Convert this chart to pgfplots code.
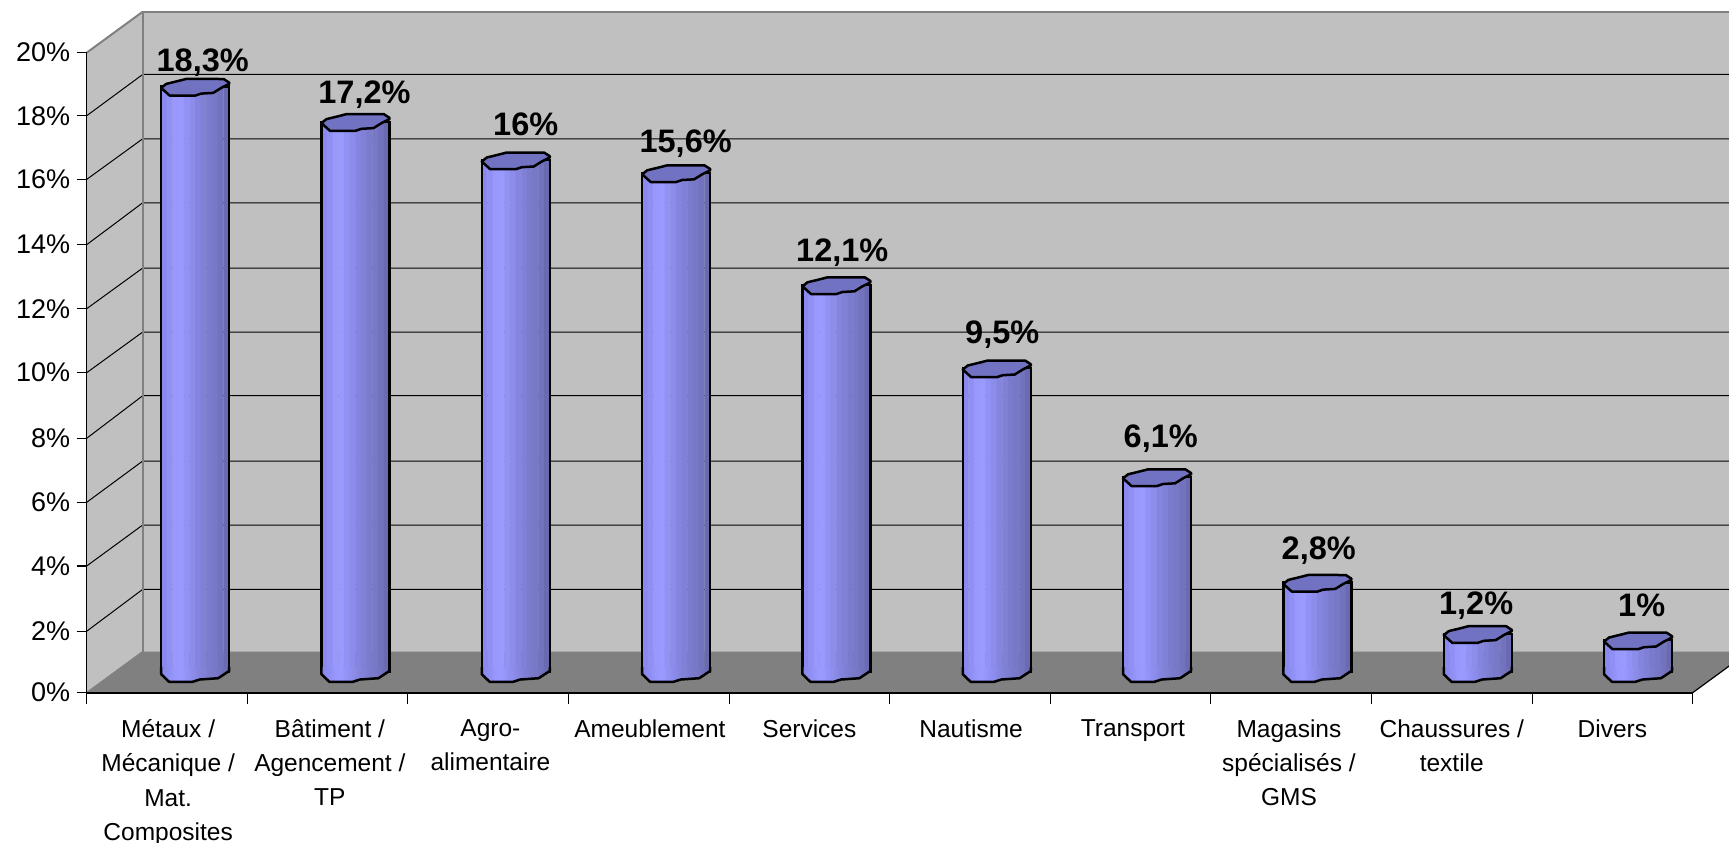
\documentclass[border=0pt]{standalone}
\usepackage{fontspec}
\setmainfont{Liberation Sans}
\usepackage{pgfplots}
\usepackage{pgfplotstable}
\pgfplotsset{compat=1.18}
\definecolor{wall}{HTML}{C0C0C0}
\definecolor{floorc}{HTML}{808080}
\definecolor{capc}{HTML}{7272C2}
\definecolor{b1}{HTML}{8A8AEE}
\definecolor{b2}{HTML}{9090F4}
\definecolor{b3}{HTML}{9898FD}
\definecolor{b4}{HTML}{9999FF}
\definecolor{b5}{HTML}{9292F5}
\definecolor{b6}{HTML}{8C8CEA}
\definecolor{b7}{HTML}{8585DF}
\definecolor{b8}{HTML}{8080D6}
\definecolor{b9}{HTML}{7B7BCD}
\definecolor{b10}{HTML}{7878C6}
\definecolor{b11}{HTML}{7272BE}
\definecolor{b12}{HTML}{6A6AB2}
\pgfdeclarehorizontalshading{cyl}{100bp}{color(0bp)=(b1); color(27.08bp)=(b1); color(31.25bp)=(b2); color(35.42bp)=(b3); color(39.58bp)=(b4); color(43.75bp)=(b5); color(47.92bp)=(b6); color(52.08bp)=(b7); color(56.25bp)=(b8); color(60.42bp)=(b9); color(64.58bp)=(b10); color(68.75bp)=(b11); color(72.92bp)=(b12); color(100bp)=(b12)}
\pgfdeclareplotmark{cyltop}{%
  \pgfsetcornersarced{\pgfqpoint{3pt}{3pt}}%
  \pgfpathmoveto{\pgfqpoint{0pt}{-9pt}}%
  \pgfpathlineto{\pgfqpoint{6pt}{-7pt}}%
  \pgfpathlineto{\pgfqpoint{18pt}{-6.3pt}}%
  \pgfpathlineto{\pgfqpoint{26pt}{-1.3pt}}%
  \pgfpathlineto{\pgfqpoint{34pt}{2.7pt}}%
  \pgfpathlineto{\pgfqpoint{34pt}{4pt}}%
  \pgfpathlineto{\pgfqpoint{28.5pt}{7.6pt}}%
  \pgfpathlineto{\pgfqpoint{-9pt}{7.7pt}}%
  \pgfpathlineto{\pgfqpoint{-15.5pt}{6pt}}%
  \pgfpathlineto{\pgfqpoint{-29pt}{2.7pt}}%
  \pgfpathlineto{\pgfqpoint{-34pt}{-1.3pt}}%
  \pgfpathlineto{\pgfqpoint{-25.5pt}{-9pt}}%
  \pgfpathclose
  \pgfusepathqfillstroke
}
\pgfdeclareplotmark{cylbase}{%
  \pgfsetcornersarced{\pgfqpoint{3pt}{3pt}}%
  \pgfpathmoveto{\pgfqpoint{-34pt}{5pt}}%
  \pgfpathlineto{\pgfqpoint{-34pt}{-2pt}}%
  \pgfpathlineto{\pgfqpoint{-26pt}{-9.7pt}}%
  \pgfpathlineto{\pgfqpoint{-3pt}{-9.7pt}}%
  \pgfpathlineto{\pgfqpoint{4.5pt}{-7.3pt}}%
  \pgfpathlineto{\pgfqpoint{23pt}{-6pt}}%
  \pgfpathlineto{\pgfqpoint{34pt}{1.3pt}}%
  \pgfpathlineto{\pgfqpoint{34pt}{5pt}}%
  \pgfpathclose
  \pgfshadepath{cyl}{0}%
  \pgfusepath{discard}%
  \pgfpathmoveto{\pgfqpoint{-34pt}{5pt}}%
  \pgfpathlineto{\pgfqpoint{-34pt}{-2pt}}%
  \pgfpathlineto{\pgfqpoint{-26pt}{-9.7pt}}%
  \pgfpathlineto{\pgfqpoint{-3pt}{-9.7pt}}%
  \pgfpathlineto{\pgfqpoint{4.5pt}{-7.3pt}}%
  \pgfpathlineto{\pgfqpoint{23pt}{-6pt}}%
  \pgfpathlineto{\pgfqpoint{34pt}{1.3pt}}%
  \pgfpathlineto{\pgfqpoint{34pt}{5pt}}%
  \pgfusepathqstroke
}
\pgfplotstableread{
x y base
0.000 18.3 0
0.998 17.2 0
1.996 16.0 0
2.995 15.6 0
3.993 12.1 0
4.991 9.5 0
5.989 6.1 0
6.987 2.8 0
7.986 1.2 0
8.984 1.0 0
}\bars
\pgfplotstableread{
x y m
0.047 19.13 18.3
1.054 18.13 17.2
2.058 17.15 16
3.054 16.60 15.6
4.029 13.19 12.1
5.025 10.63 9.5
6.012 7.39 6.1
6.996 3.88 2.8
7.976 2.16 1.2
9.007 2.10 1
}\labels
\begin{document}
\begin{tikzpicture}
\useasboundingbox (-86.7pt,-150.3pt) rectangle (1642.3pt,692.7pt);
\clip (-86.7pt,-150.3pt) rectangle (1642.3pt,692.7pt);
\begin{axis}[
  at={(0pt,0pt)}, anchor=south west,
  scale only axis, width=1606pt, height=640pt,
  clip=false, axis on top=true,
  xmin=-0.6756, xmax=9.3244, ymin=-0.64, ymax=19.36,
  axis x line*=bottom, axis y line*=left,
  x axis line style={line width=2.2pt, -},
  y axis line style={line width=1.4pt, -},
  tick align=outside,
  major tick length=10pt, minor tick length=11pt,
  xtick={-0.1686,0.8384,1.8384,2.8314,3.8244,4.8314,5.8384,6.8104,7.8244,8.8244},
  xticklabels={{Métaux /\\Mécanique /\\Mat.\\Composites},{Bâtiment /\\Agencement /\\TP},{Agro-\\alimentaire},{Ameublement},{Services},{Nautisme},{Transport},{Magasins\\spécialisés /\\GMS},{Chaussures /\\textile},{Divers}},
  minor xtick={-0.6756,0.3244,1.3244,2.3244,3.3244,4.3244,5.3244,6.3244,7.3244,8.3244,9.3244},
  major x tick style={draw=none},
  minor x tick style={draw=black, line width=1pt},
  ytick={-0.64,1.28,3.32,5.31,7.31,9.36,11.36,13.36,15.40,17.39,19.36},
  yticklabels={0\%,2\%,4\%,6\%,8\%,10\%,12\%,14\%,16\%,18\%,20\%},
  minor ytick={},
  y tick style={draw=black, line width=1.4pt},
  x tick label style={font=\fontsize{24.5}{34.2}\selectfont, align=center, anchor=north, yshift=-13.5pt},
  y tick label style={font=\fontsize{27}{30}\selectfont, anchor=east, xshift=-3pt},
]
% walls and floor
\addplot[draw=none, fill=wall, forget plot] coordinates {(-0.3269,0.64)(9.6731,0.64)(9.6731,20.64)(-0.3269,20.64)} -- cycle;
\addplot[draw=none, fill=wall, forget plot] coordinates {(-0.6756,-0.64)(-0.3269,0.64)(-0.3269,20.64)(-0.6756,19.36)} -- cycle;
\addplot[draw=none, fill=floorc, forget plot] coordinates {(-0.6756,-0.64)(9.3244,-0.64)(9.6731,0.64)(-0.3269,0.64)} -- cycle;
% grid lines
\addplot[black, line width=1pt, forget plot] coordinates {(-0.6756,1.28)(-0.3269,2.59)(9.6731,2.59)};
\addplot[black, line width=1pt, forget plot] coordinates {(-0.6756,3.32)(-0.3269,4.60)(9.6731,4.60)};
\addplot[black, line width=1pt, forget plot] coordinates {(-0.6756,5.31)(-0.3269,6.60)(9.6731,6.60)};
\addplot[black, line width=1pt, forget plot] coordinates {(-0.6756,7.31)(-0.3269,8.64)(9.6731,8.64)};
\addplot[black, line width=1pt, forget plot] coordinates {(-0.6756,9.36)(-0.3269,10.63)(9.6731,10.63)};
\addplot[black, line width=1pt, forget plot] coordinates {(-0.6756,11.36)(-0.3269,12.63)(9.6731,12.63)};
\addplot[black, line width=1pt, forget plot] coordinates {(-0.6756,13.36)(-0.3269,14.67)(9.6731,14.67)};
\addplot[black, line width=1pt, forget plot] coordinates {(-0.6756,15.40)(-0.3269,16.67)(9.6731,16.67)};
\addplot[black, line width=1pt, forget plot] coordinates {(-0.6756,17.39)(-0.3269,18.68)(9.6731,18.68)};
% wall edges
\addplot[floorc, line width=2pt, forget plot] coordinates {(-0.3269,0.64)(-0.3269,20.64)(9.6731,20.64)};
\addplot[floorc, line width=2pt, forget plot] coordinates {(-0.6756,19.36)(-0.3269,20.64)};
\addplot[floorc, line width=1.5pt, forget plot] coordinates {(-0.6756,-0.64)(-0.3269,0.64)};
\addplot[black, line width=1.2pt, forget plot] coordinates {(9.3244,-0.64)(9.6731,0.64)};
% cylinders: vertical colour bands, then the outline
\addplot[ybar, bar width=6pt, bar shift=-31.17pt, draw=none, fill=b1, forget plot] table[x=x,y=y] {\bars};
\addplot[ybar, bar width=6pt, bar shift=-25.5pt, draw=none, fill=b2, forget plot] table[x=x,y=y] {\bars};
\addplot[ybar, bar width=6pt, bar shift=-19.83pt, draw=none, fill=b3, forget plot] table[x=x,y=y] {\bars};
\addplot[ybar, bar width=6pt, bar shift=-14.17pt, draw=none, fill=b4, forget plot] table[x=x,y=y] {\bars};
\addplot[ybar, bar width=6pt, bar shift=-8.5pt, draw=none, fill=b5, forget plot] table[x=x,y=y] {\bars};
\addplot[ybar, bar width=6pt, bar shift=-2.83pt, draw=none, fill=b6, forget plot] table[x=x,y=y] {\bars};
\addplot[ybar, bar width=6pt, bar shift=2.83pt, draw=none, fill=b7, forget plot] table[x=x,y=y] {\bars};
\addplot[ybar, bar width=6pt, bar shift=8.5pt, draw=none, fill=b8, forget plot] table[x=x,y=y] {\bars};
\addplot[ybar, bar width=6pt, bar shift=14.17pt, draw=none, fill=b9, forget plot] table[x=x,y=y] {\bars};
\addplot[ybar, bar width=6pt, bar shift=19.83pt, draw=none, fill=b10, forget plot] table[x=x,y=y] {\bars};
\addplot[ybar, bar width=6pt, bar shift=25.5pt, draw=none, fill=b11, forget plot] table[x=x,y=y] {\bars};
\addplot[ybar, bar width=5.6pt, bar shift=31.17pt, draw=none, fill=b12, forget plot] table[x=x,y=y] {\bars};
\addplot[ybar, bar width=68pt, draw=black, fill=none, line width=2.5pt, forget plot] table[x=x,y=y] {\bars};
\addplot[only marks, mark=cylbase, mark options={draw=black, line width=2.5pt, line join=round}, forget plot] table[x=x,y=base] {\bars};
\addplot[only marks, mark=cyltop, mark options={draw=black, fill=capc, line width=2.5pt, line join=round}, forget plot] table[x=x,y=y] {\bars};
% value labels
\addplot[draw=none, mark=none, point meta=explicit,
  nodes near coords={\pgfmathprintnumber[fixed, precision=1, use comma, assume math mode=true]{\pgfplotspointmeta}\%},
  every node near coord/.style={anchor=center, font=\fontsize{32.5}{36}\selectfont\bfseries, inner sep=0pt, text height=23.5pt, text depth=0pt},
] table[x=x,y=y,meta=m] {\labels};
\end{axis}
\end{tikzpicture}
\end{document}
